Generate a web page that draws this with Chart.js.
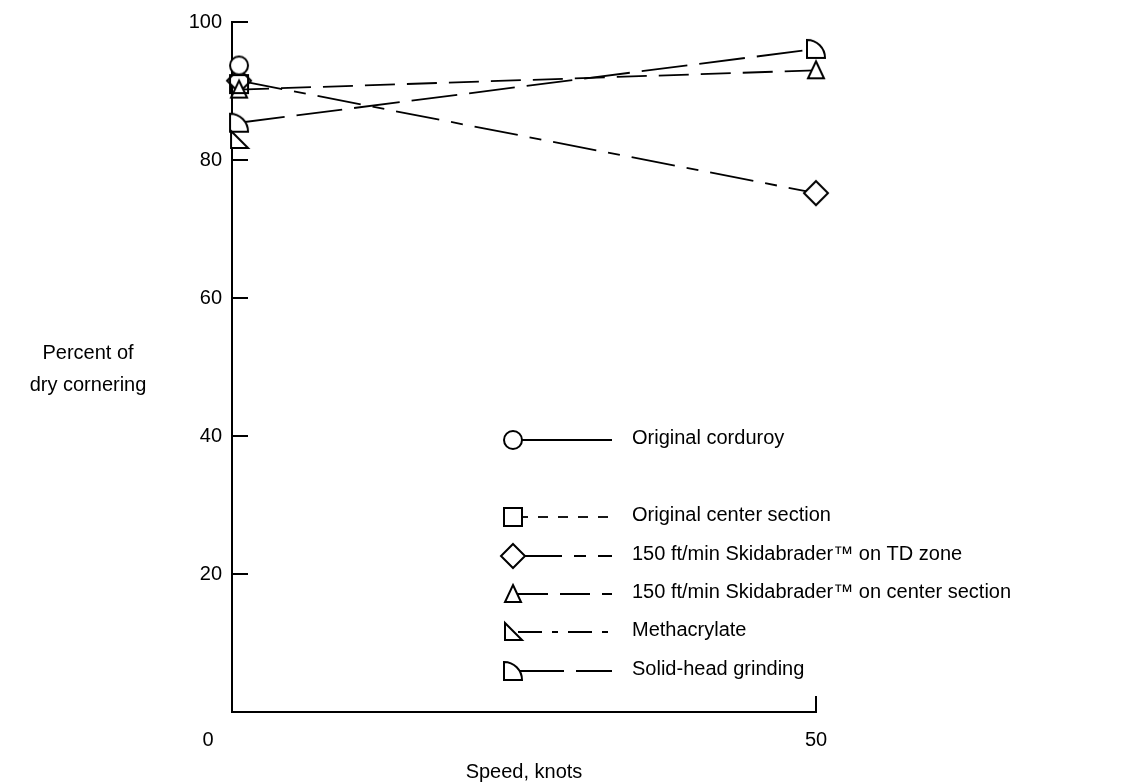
<!DOCTYPE html>
<html>
<head>
<meta charset="utf-8">
<script src="https://cdn.jsdelivr.net/npm/chart.js@4.4.1/dist/chart.umd.min.js"></script>
<style>
  html, body { margin: 0; padding: 0; background: #fff; }
  #wrap { width: 1148px; height: 784px; }
</style>
</head>
<body>
<div id="wrap"><canvas id="speedChart"></canvas></div>
<script>
// speeds (knots) where the measurements were taken
const speeds = [0.6, 50];
const seriesNames = [
  'Original corduroy',
  'Original center section',
  '150 ft/min Skidabrader™ on TD zone',
  '150 ft/min Skidabrader™ on center section',
  'Methacrylate',
  'Solid-head grinding'
];
// percent of dry cornering
const corduroy = [93.7];
const centerSection = [91.0];
const tdZone = [91.5, 75.2];
const centerSkid = [90.2, 93.0];
const methacrylate = [82.9];
const solidHead = [85.4, 96.1];
const yTicks = [20, 40, 60, 80, 100];
const xTicks = [0, 50];

const FONT = '"Liberation Sans", Arial, Helvetica, sans-serif';

// little canvases used as point styles
function makeMarker(kind, hollow) {
  let c = document.createElement('canvas');
  c.width = 30; c.height = 30;
  let g = c.getContext('2d');
  g.lineWidth = 2;
  g.strokeStyle = '#000';
  g.fillStyle = '#fff';
  g.beginPath();
  if (kind === 'circle') {
    g.arc(15, 15, 9, 0, Math.PI * 2);
  } else if (kind === 'square') {
    g.rect(6, 6, 18, 18);
  } else if (kind === 'diamond') {
    g.moveTo(15, 3); g.lineTo(27, 15); g.lineTo(15, 27); g.lineTo(3, 15); g.closePath();
  } else if (kind === 'triangle') {
    g.moveTo(15, 6); g.lineTo(23, 23); g.lineTo(7, 23); g.closePath();
  } else if (kind === 'rightTri') {
    g.moveTo(7, 6); g.lineTo(7, 23); g.lineTo(24, 23); g.closePath();
  } else if (kind === 'quarter') {
    g.moveTo(6, 6); g.lineTo(6, 24); g.lineTo(24, 24);
    g.arc(6, 24, 18, 0, -Math.PI / 2, true);
    g.closePath();
  }
  if (!hollow) g.fill();
  g.stroke();
  return c;
}

const markers = [
  makeMarker('circle'),
  makeMarker('square', true),
  makeMarker('diamond'),
  makeMarker('triangle'),
  makeMarker('rightTri'),
  makeMarker('quarter')
];
const dashes = [[], [10, 10], [44, 12, 12, 12], [30, 12], [24, 10, 6, 10], [46, 12]];
// higher order is drawn first, so the square outline sits on top of the cluster
const drawOrder = [1, 2, 4, 3, 5, 6];
const values = [corduroy, centerSection, tdZone, centerSkid, methacrylate, solidHead];

const datasets = values.map((vals, i) => ({
  label: seriesNames[i],
  data: vals.map((v, j) => ({ x: speeds[j], y: v })),
  showLine: true,
  clip: false,
  order: drawOrder[i],
  borderColor: '#000',
  borderWidth: 1.8,
  borderDash: dashes[i],
  pointStyle: markers[i],
  pointRadius: 10,
  pointHoverRadius: 10,
  fill: false
}));

// ticks drawn inward, the corner "0", the horizontal y title and the legend
const decorations = {
  id: 'decorations',
  afterDraw(chart) {
    let ctx = chart.ctx;
    let x = chart.scales.x, y = chart.scales.y;
    let left = x.getPixelForValue(xTicks[0]);
    let bottom = y.getPixelForValue(0);
    ctx.save();
    ctx.strokeStyle = '#000';
    ctx.lineWidth = 2;
    ctx.beginPath();
    yTicks.forEach(v => {
      let py = y.getPixelForValue(v);
      ctx.moveTo(left, py); ctx.lineTo(left + 16, py);
    });
    let rx = x.getPixelForValue(xTicks[1]);
    ctx.moveTo(rx, bottom); ctx.lineTo(rx, bottom - 16);
    ctx.stroke();

    ctx.fillStyle = '#000';
    ctx.font = '20px ' + FONT;
    ctx.textAlign = 'center';
    ctx.textBaseline = 'middle';
    ctx.fillText(String(xTicks[0]), left - 24, bottom + 28);
    ctx.fillText('Percent of', 88, 353);
    ctx.fillText('dry cornering', 88, 385);

    // legend
    let rows = [440, 517, 556, 594, 632, 671];
    chart.data.datasets.forEach((ds, i) => {
      let ly = rows[i];
      ctx.setLineDash(ds.borderDash);
      ctx.lineWidth = 1.8;
      ctx.beginPath();
      ctx.moveTo(518, ly); ctx.lineTo(612, ly);
      ctx.stroke();
      ctx.setLineDash([]);
      let m = ds.pointStyle;
      if (i === 1) {
        ctx.fillStyle = '#fff';
        ctx.fillRect(504, ly - 9, 18, 18);
        ctx.fillStyle = '#000';
      }
      ctx.drawImage(m, 513 - m.width / 2, ly - m.height / 2);
      ctx.textAlign = 'left';
      ctx.fillText(ds.label, 632, ly - 2);
    });
    ctx.restore();
  }
};

let ctx = document.getElementById('speedChart').getContext('2d');
let speedChart = new Chart(ctx, {
  type: 'scatter',
  data: { datasets: datasets },
  options: {
    responsive: true,
    maintainAspectRatio: false,
    animation: false,
    layout: { padding: { top: 18, right: 332, left: 0, bottom: 0 } },
    plugins: {
      legend: { display: false },
      tooltip: { enabled: false }
    },
    scales: {
      x: {
        type: 'linear',
        min: 0,
        max: 50,
        afterBuildTicks: s => { s.ticks = xTicks.map(v => ({ value: v })); },
        afterFit: s => { s.height = 72; },
        ticks: {
          color: '#000',
          font: { family: FONT, size: 20 },
          padding: 16,
          maxRotation: 0,
          callback: v => (v === 0 ? '' : v)
        },
        grid: { display: true, drawOnChartArea: false, drawTicks: false, color: 'rgba(0,0,0,0)' },
        border: { display: true, color: '#000', width: 2 },
        title: {
          display: true,
          text: 'Speed, knots',
          color: '#000',
          font: { family: FONT, size: 20 },
          padding: { top: 4, bottom: 0 }
        }
      },
      y: {
        type: 'linear',
        min: 0,
        max: 100,
        afterBuildTicks: s => { s.ticks = yTicks.map(v => ({ value: v })); },
        afterFit: s => { s.width = 232; },
        ticks: {
          color: '#000',
          font: { family: FONT, size: 20 },
          padding: 10
        },
        grid: { display: true, drawOnChartArea: false, drawTicks: false, color: 'rgba(0,0,0,0)' },
        border: { display: true, color: '#000', width: 2 }
      }
    }
  },
  plugins: [decorations]
});
</script>
</body>
</html>
